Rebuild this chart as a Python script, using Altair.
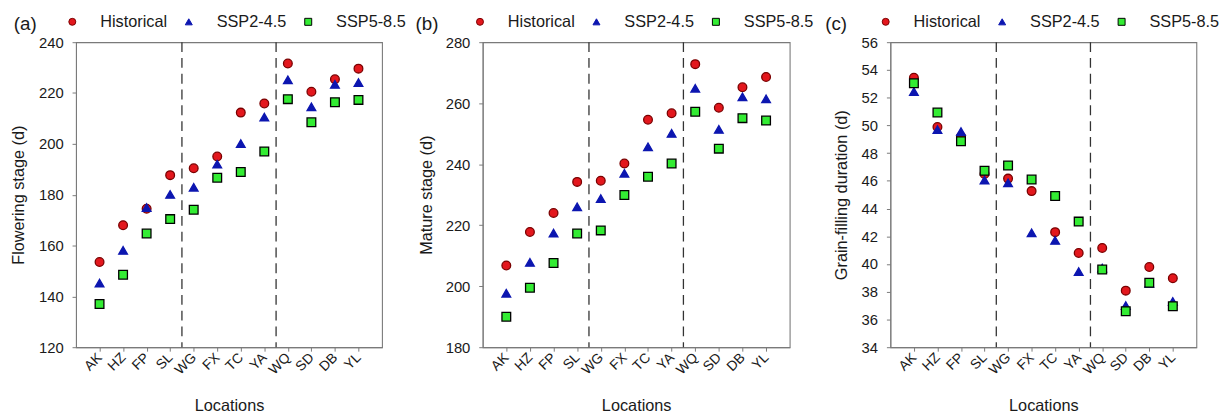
import json

import altair as alt
import pandas as pd

# Sites (x axis) and scenarios (legend)
locations = ["AK", "HZ", "FP", "SL", "WG", "FX", "TC", "YA", "WQ", "SD", "DB", "YL"]
scenarios = ["Historical", "SSP2-4.5", "SSP5-8.5"]

# (a) Flowering stage (d)
flower_hist = [153.5, 168.0, 174.5, 187.7, 190.4, 195.0, 212.3, 215.9, 231.6, 220.5, 225.4, 229.6]
flower_ssp245 = [145.2, 158.1, 174.9, 180.1, 182.9, 192.0, 200.1, 210.5, 225.2, 214.6, 223.4, 224.1]
flower_ssp585 = [137.0, 148.5, 164.7, 170.4, 174.1, 186.7, 188.9, 197.0, 217.6, 208.5, 216.4, 217.3]

# (b) Mature stage (d)
mature_hist = [206.8, 217.8, 224.0, 234.2, 234.6, 240.2, 254.6, 256.7, 272.8, 258.5, 265.2, 268.6]
mature_ssp245 = [197.7, 207.8, 217.4, 226.0, 228.7, 237.0, 245.7, 250.1, 264.9, 251.4, 262.1, 261.4]
mature_ssp585 = [190.0, 199.5, 207.6, 217.3, 218.3, 229.9, 235.9, 240.2, 257.2, 245.1, 255.1, 254.3]

# (c) Grain-filling duration (d)
grain_hist = [53.44, 49.88, 49.2, 46.5, 46.16, 45.26, 42.3, 40.8, 41.16, 38.08, 39.78, 38.98]
grain_ssp245 = [52.44, 49.69, 49.55, 46.05, 45.85, 42.25, 41.7, 39.45, 39.7, 37.0, 38.6, 37.3]
grain_ssp585 = [53.04, 50.93, 48.86, 46.73, 47.11, 46.09, 44.9, 43.06, 39.6, 36.6, 38.65, 36.96]

# Dashed separators between the three site groups
separators = [4.5, 8.5]

FONT = "Liberation Sans"
TEXT = "#1a1a1a"
FRAME = "#7a7a7a"

fills = ["#e3171d", "#0c16b0", "#33ec33"]
strokes = ["#7a0000", "#0c16b0", "#000000"]
shapes = ["circle", "triangle-up", "square"]

label_expr = json.dumps(locations) + "[datum.value - 1]"


def long_frame(hist, ssp245, ssp585):
    rows = []
    for name, values in zip(scenarios, [hist, ssp245, ssp585]):
        for i, (loc, v) in enumerate(zip(locations, values)):
            rows.append({"pos": i + 1, "site": loc, "scenario": name, "value": v})
    return pd.DataFrame(rows)


def x_enc(field):
    return alt.X(
        f"{field}:Q",
        scale=alt.Scale(domain=[0, 13], nice=False, zero=False),
        axis=alt.Axis(
            values=list(range(1, 13)),
            labelExpr=label_expr,
            labelAngle=-45,
            labelAlign="right",
            labelBaseline="middle",
            labelFontSize=14,
            labelPadding=4,
            labelOverlap=False,
            title="Locations",
            titleY=64,
            titleBaseline="alphabetic",
            grid=False,
        ),
    )


def panel(df, tag, ytitle, ydomain, ystep, title_x, tag_dx, legend_x, width):
    ticks = []
    v = ydomain[0]
    while v <= ydomain[1] + 1e-9:
        ticks.append(v)
        v += ystep
    y = alt.Y(
        "value:Q",
        scale=alt.Scale(domain=ydomain, nice=False, zero=False),
        axis=alt.Axis(values=ticks, title=ytitle, titleX=title_x,
                      titleBaseline="middle", grid=False, labelOverlap=False),
    )
    legend = alt.Legend(
        title=None,
        orient="none",
        direction="horizontal",
        legendX=legend_x,
        legendY=-29,
        padding=0,
        symbolSize=50,
        symbolStrokeWidth=1,
        labelFont=FONT,
        labelFontSize=16.5,
        labelColor=TEXT,
        labelOffset=20,
        columnPadding=13,
    )
    rules = alt.Chart(pd.DataFrame({"sep": separators})).mark_rule(
        color="#333333", strokeDash=[10, 6], strokeWidth=1.3
    ).encode(x=x_enc("sep"))
    points = alt.Chart(df).mark_point(filled=True, opacity=1, size=78, strokeWidth=1.3).encode(
        x=x_enc("pos"),
        y=y,
        fill=alt.Fill("scenario:N", scale=alt.Scale(domain=scenarios, range=fills), legend=legend),
        stroke=alt.Stroke("scenario:N", scale=alt.Scale(domain=scenarios, range=strokes), legend=legend),
        shape=alt.Shape("scenario:N", scale=alt.Scale(domain=scenarios, range=shapes), legend=legend),
    )
    return alt.layer(rules, points).properties(
        width=width,
        height=309,
        title=alt.TitleParams(
            text=tag, anchor="start", frame="group", dx=tag_dx, dy=40, fontSize=19,
            font=FONT, fontWeight="normal", color=TEXT, baseline="alphabetic",
        ),
    )


chart_a = panel(long_frame(flower_hist, flower_ssp245, flower_ssp585), "(a)",
                "Flowering stage (d)", [120, 240], 20, -58.5, -63, -12, 310)
chart_b = panel(long_frame(mature_hist, mature_ssp245, mature_ssp585), "(b)",
                "Mature stage (d)", [180, 280], 20, -57, -68, -11, 311)
chart_c = panel(long_frame(grain_hist, grain_ssp245, grain_ssp585), "(c)",
                "Grain-filling duration (d)", [34, 56], 2, -49, -66, -13, 310)

chart = (
    alt.hconcat(chart_a, chart_b, chart_c, spacing=102, bounds="flush")
    .resolve_scale(x="independent", y="independent", fill="independent",
                   stroke="independent", shape="independent")
    .resolve_legend(fill="independent", stroke="independent", shape="independent")
    .properties(padding={"left": 9, "top": 10, "right": 4, "bottom": 2}, background="white")
    .configure_view(stroke=FRAME, strokeWidth=1.1)
    .configure_axis(
        domainColor=FRAME,
        tickColor=FRAME,
        tickSize=4,
        labelFont=FONT,
        labelFontSize=15,
        labelColor=TEXT,
        labelPadding=9,
        titleFont=FONT,
        titleFontSize=16.5,
        titleFontWeight="normal",
        titleColor=TEXT,
    )
)

chart.save("out.html", embed_options={"renderer": "svg", "actions": False})
